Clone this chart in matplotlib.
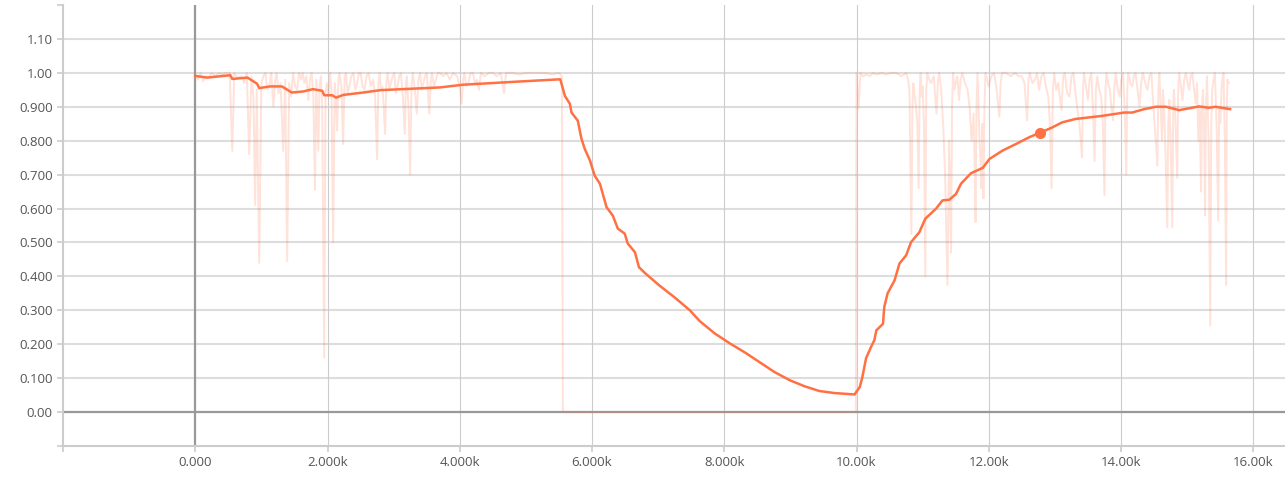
import matplotlib
matplotlib.use('Agg')
import matplotlib.pyplot as plt

# raw values (light line), (step, value) pairs
raw_first = [(0, 0.99), (40, 0.98), (80, 1.0), (120, 0.975), (160, 0.99), (200, 0.985), (250, 1.0),
             (300, 0.99), (360, 1.0), (410, 0.995), (450, 1.0), (520, 1.0), (560, 0.77), (590, 1.0),
             (640, 0.985), (700, 0.99), (740, 0.97), (780, 1.0), (815, 0.76), (850, 0.99), (880, 0.93),
             (906, 0.61), (930, 0.95), (967, 0.44), (1000, 0.97), (1030, 0.99), (1060, 1.0), (1090, 0.95),
             (1120, 0.96), (1150, 1.0), (1180, 0.90), (1210, 0.98), (1230, 1.0), (1260, 0.94), (1290, 0.97),
             (1330, 0.77), (1360, 0.98), (1390, 0.445), (1420, 0.97), (1450, 0.93), (1480, 1.0), (1510, 0.96),
             (1540, 0.95), (1570, 1.0), (1600, 0.98), (1625, 1.0), (1650, 0.97), (1680, 0.99), (1710, 0.92),
             (1735, 0.98), (1760, 1.0), (1785, 0.94), (1810, 0.655), (1830, 0.98), (1860, 0.77), (1880, 0.96),
             (1900, 0.99), (1920, 0.90), (1950, 0.16), (1970, 0.94), (1990, 0.97), (2015, 0.93), (2040, 1.0),
             (2060, 0.95), (2085, 0.50), (2110, 0.97), (2130, 0.92), (2145, 0.83), (2165, 0.98), (2180, 1.0),
             (2210, 0.96), (2235, 0.79), (2260, 0.99), (2280, 1.0), (2305, 0.94), (2330, 0.96), (2360, 0.99),
             (2390, 1.0), (2420, 0.95), (2450, 0.97), (2475, 1.0), (2500, 1.0), (2530, 0.96), (2560, 0.95),
             (2590, 0.99), (2620, 1.0), (2655, 0.96), (2690, 0.98), (2720, 0.93), (2750, 0.745), (2770, 0.97),
             (2790, 1.0), (2810, 0.95), (2830, 0.96), (2850, 0.90), (2870, 0.82), (2890, 0.97), (2910, 1.0),
             (2935, 0.95), (2960, 0.97), (2985, 0.99), (3010, 1.0), (3035, 0.94), (3060, 0.96), (3085, 0.99),
             (3110, 1.0), (3140, 0.93), (3170, 0.82), (3185, 0.97), (3200, 0.99), (3225, 0.90), (3250, 0.70),
             (3270, 0.96), (3290, 1.0), (3320, 0.95), (3350, 0.88), (3375, 0.98), (3400, 1.0), (3425, 0.95),
             (3450, 0.97), (3475, 0.99), (3500, 1.0), (3520, 0.94), (3540, 0.88), (3560, 0.97), (3580, 1.0),
             (3610, 0.96), (3640, 0.98), (3670, 1.0), (3700, 1.0), (3750, 0.99), (3800, 1.0), (3850, 0.98),
             (3900, 1.0), (3960, 0.99), (4000, 0.96), (4030, 0.91), (4050, 0.98), (4070, 1.0), (4100, 0.96),
             (4130, 0.97), (4165, 1.0), (4200, 1.0), (4230, 0.97), (4260, 0.98), (4290, 0.95), (4320, 1.0),
             (4380, 0.99), (4440, 1.0), (4500, 1.0), (4560, 0.99), (4620, 1.0), (4670, 0.94), (4700, 1.0),
             (4800, 1.0), (4900, 0.995), (5000, 1.0), (5150, 1.0), (5300, 1.0), (5400, 0.995), (5500, 1.0),
             (5545, 0.99)]
raw_zero = [(5560, 0.0), (7000, 0.0), (8500, 0.0), (9990, 0.0)]
raw_second = [(10000, 1.0), (10030, 0.895), (10060, 1.0), (10100, 0.99), (10150, 0.995), (10200, 0.99),
              (10250, 1.0), (10300, 0.995), (10380, 1.0), (10450, 0.995), (10520, 1.0), (10600, 1.0),
              (10680, 0.99), (10750, 1.0), (10780, 0.98), (10800, 0.95), (10830, 0.525), (10845, 0.90),
              (10860, 0.97), (10880, 0.93), (10900, 0.90), (10920, 0.85), (10940, 0.66), (10955, 0.95),
              (10970, 1.0), (10985, 0.93), (11000, 0.96), (11020, 0.85), (11040, 0.40), (11055, 0.95),
              (11070, 1.0), (11100, 0.98), (11130, 0.97), (11170, 0.99), (11190, 0.93), (11210, 0.88),
              (11230, 0.97), (11250, 1.0), (11280, 0.95), (11310, 0.85), (11340, 0.70), (11375, 0.375),
              (11390, 0.60), (11400, 0.80), (11415, 0.65), (11430, 0.47), (11445, 0.90), (11460, 1.0),
              (11480, 0.95), (11500, 0.97), (11525, 0.99), (11550, 0.92), (11575, 0.98), (11600, 1.0),
              (11640, 0.97), (11680, 0.95), (11710, 0.90), (11740, 0.80), (11770, 0.88), (11785, 0.75),
              (11800, 0.56), (11815, 0.90), (11830, 1.0), (11845, 0.90), (11860, 0.80), (11875, 0.75),
              (11890, 0.66), (11905, 0.85), (11920, 0.63), (11935, 0.90), (11950, 1.0), (11975, 0.98),
              (12000, 0.96), (12040, 0.99), (12080, 1.0), (12120, 0.95), (12160, 0.87), (12180, 0.97),
              (12200, 1.0), (12260, 1.0), (12330, 0.99), (12400, 1.0), (12450, 0.99), (12500, 0.99),
              (12540, 0.97), (12580, 0.86), (12600, 0.98), (12620, 1.0), (12660, 0.97), (12700, 0.98),
              (12730, 1.0), (12760, 0.95), (12795, 0.99), (12830, 1.0), (12865, 0.96), (12900, 0.93),
              (12925, 0.85), (12950, 0.66), (12970, 0.95), (12990, 1.0), (13020, 0.95), (13050, 0.97),
              (13075, 0.93), (13100, 0.89), (13125, 0.99), (13150, 1.0), (13185, 0.94), (13220, 0.93),
              (13250, 0.99), (13280, 1.0), (13305, 0.95), (13330, 0.91), (13370, 0.85), (13410, 0.75),
              (13425, 0.95), (13440, 1.0), (13470, 0.96), (13500, 0.92), (13525, 0.98), (13550, 1.0),
              (13575, 0.90), (13600, 0.74), (13620, 0.95), (13640, 0.99), (13670, 0.95), (13700, 0.93),
              (13725, 0.85), (13750, 0.64), (13765, 0.95), (13780, 1.0), (13805, 0.97), (13830, 0.95),
              (13855, 0.90), (13880, 0.86), (13900, 0.96), (13920, 1.0), (13950, 0.95), (13980, 0.93),
              (14005, 0.98), (14030, 1.0), (14055, 0.90), (14080, 0.70), (14095, 0.95), (14110, 1.0),
              (14140, 0.97), (14170, 0.96), (14195, 0.99), (14220, 1.0), (14250, 0.95), (14280, 0.90),
              (14305, 0.97), (14330, 1.0), (14365, 0.97), (14400, 0.95), (14430, 0.99), (14460, 1.0),
              (14480, 0.93), (14500, 0.87), (14525, 0.80), (14550, 0.726), (14565, 0.95), (14580, 1.0),
              (14600, 0.90), (14620, 0.80), (14635, 0.95), (14650, 0.90), (14675, 0.75), (14700, 0.545),
              (14715, 0.85), (14730, 0.92), (14750, 0.80), (14775, 0.545), (14790, 0.90), (14800, 0.95),
              (14825, 0.85), (14850, 0.69), (14865, 0.95), (14880, 1.0), (14905, 0.96), (14930, 0.92),
              (14955, 0.98), (14980, 1.0), (15005, 0.97), (15030, 0.95), (15055, 0.99), (15080, 1.0),
              (15105, 0.95), (15130, 0.91), (15150, 0.97), (15170, 0.80), (15190, 0.90), (15210, 0.65),
              (15225, 0.90), (15240, 0.95), (15255, 0.85), (15270, 0.58), (15285, 0.90), (15300, 0.99),
              (15325, 0.80), (15350, 0.255), (15365, 0.85), (15380, 0.95), (15400, 0.98), (15420, 1.0),
              (15445, 0.85), (15470, 0.565), (15485, 0.90), (15500, 0.85), (15525, 0.97), (15550, 1.0),
              (15570, 0.80), (15590, 0.375), (15600, 0.90), (15610, 0.98), (15630, 0.97)]

# smoothed values (dark line)
smooth_steps = [0, 180, 530, 560, 790, 935, 967, 1130, 1310, 1460, 1630, 1780, 1920, 1950, 2070, 2130,
                2240, 2540, 2800, 3140, 3700, 4050, 4860, 5520, 5590, 5665, 5690, 5785, 5840, 5890,
                5970, 6040, 6120, 6220, 6315, 6390, 6495, 6540, 6650, 6710, 6800, 7020, 7250, 7480,
                7630, 7855, 8080, 8310, 8535, 8760, 8990, 9215, 9440, 9670, 9970, 10050, 10085, 10145,
                10220, 10270, 10300, 10400, 10420, 10470, 10575, 10650, 10750, 10825, 10950, 11040,
                11200, 11300, 11405, 11505, 11580, 11730, 11910, 12010, 12210, 12410, 12610, 12780,
                12960, 13110, 13310, 13710, 14050, 14170, 14350, 14530, 14680, 14880, 15180, 15330,
                15430, 15650]
smooth_values = [0.991, 0.986, 0.993, 0.982, 0.986, 0.968, 0.955, 0.960, 0.960, 0.942, 0.945, 0.952, 0.947,
                 0.934, 0.934, 0.927, 0.935, 0.942, 0.949, 0.952, 0.957, 0.965, 0.974, 0.981, 0.932,
                 0.909, 0.883, 0.859, 0.806, 0.776, 0.741, 0.697, 0.673, 0.604, 0.579, 0.541, 0.526,
                 0.497, 0.471, 0.427, 0.41, 0.373, 0.338, 0.30, 0.268, 0.232, 0.203, 0.176, 0.147,
                 0.118, 0.094, 0.076, 0.062, 0.056, 0.052, 0.074, 0.10, 0.159, 0.192, 0.212, 0.241,
                 0.26, 0.31, 0.35, 0.388, 0.438, 0.462, 0.501, 0.53, 0.57, 0.599, 0.624, 0.626, 0.643,
                 0.673, 0.704, 0.72, 0.746, 0.771, 0.79, 0.81, 0.824, 0.839, 0.854, 0.864, 0.873,
                 0.883, 0.883, 0.893, 0.9, 0.9, 0.89, 0.901, 0.897, 0.9, 0.893]

marker_step = 12780
marker_value = 0.824

x_ticks = [-2000, 0, 2000, 4000, 6000, 8000, 10000, 12000, 14000, 16000]
x_labels = ['', '0.000', '2.000k', '4.000k', '6.000k', '8.000k', '10.00k', '12.00k', '14.00k', '16.00k']
y_ticks = [-0.1, 0.0, 0.1, 0.2, 0.3, 0.4, 0.5, 0.6, 0.7, 0.8, 0.9, 1.0, 1.1, 1.2]
y_labels = ['', '0.00', '0.100', '0.200', '0.300', '0.400', '0.500', '0.600', '0.700', '0.800',
            '0.900', '1.00', '1.10', '']

line_color = '#ff7043'

raw = raw_first + raw_zero + raw_second
raw_steps = [p[0] for p in raw]
raw_values = [p[1] for p in raw]

plt.rcParams['font.family'] = ['Open Sans', 'DejaVu Sans']

fig = plt.figure(figsize=(12.85, 4.78), dpi=100)
ax = fig.add_axes([63 / 1285, 32 / 478, 1222 / 1285, 441 / 478])

ax.set_xlim(-2000, 16480)
ax.set_ylim(-0.1, 1.2)

# grid lines
for y in y_ticks[1:-1]:
    ax.axhline(y, color='#dddddd', lw=1.5, zorder=0)
for x in x_ticks[1:]:
    ax.axvline(x, color='#cccccc', lw=0.8, zorder=0)
ax.axhline(0, color='#999999', lw=1.6, zorder=1)
ax.axvline(0, color='#999999', lw=1.6, zorder=1)

ax.plot(raw_steps, raw_values, color=line_color, alpha=0.2, lw=1.4, zorder=2)
ax.plot(smooth_steps, smooth_values, color=line_color, lw=1.8, zorder=3)
ax.plot([marker_step], [marker_value], 'o', color=line_color, ms=7, zorder=4)

ax.set_xticks(x_ticks)
ax.set_xticklabels(x_labels)
ax.set_yticks(y_ticks)
ax.set_yticklabels(y_labels)

for side in ['top', 'right']:
    ax.spines[side].set_visible(False)
for side in ['left', 'bottom']:
    ax.spines[side].set_color('#cccccc')
    ax.spines[side].set_linewidth(1.5)

ax.tick_params(axis='both', colors='#cccccc', length=4.5, width=1.2, labelsize=9.5,
               labelcolor='#555555', pad=3)

fig.savefig('out.png', dpi=100)
